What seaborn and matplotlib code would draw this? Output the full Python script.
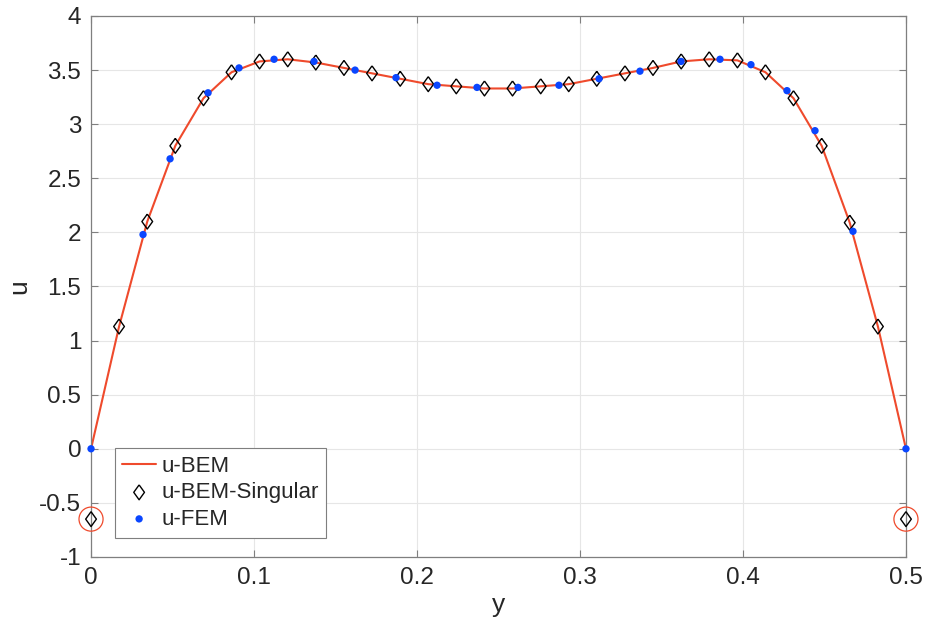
# u along y: BEM vs BEM-Singular vs FEM
import pandas as pd
import seaborn as sns
import matplotlib.pyplot as plt

# Data
y_bem = [0, 0.0172, 0.0345, 0.0517, 0.0690, 0.0862, 0.1034, 0.1207, 0.1379, 0.1552,
         0.1724, 0.1897, 0.2069, 0.2241, 0.2414, 0.2586, 0.2759, 0.2931, 0.3103, 0.3276,
         0.3448, 0.3621, 0.3793, 0.3966, 0.4138, 0.4310, 0.4483, 0.4655, 0.4828, 0.5]
u_bem = [0, 1.13, 2.10, 2.80, 3.24, 3.48, 3.58, 3.60, 3.57, 3.52,
         3.47, 3.42, 3.37, 3.35, 3.33, 3.33, 3.35, 3.37, 3.42, 3.47,
         3.52, 3.58, 3.60, 3.59, 3.48, 3.24, 2.80, 2.09, 1.13, 0]
u_sing = [-0.65, 1.13, 2.10, 2.80, 3.24, 3.48, 3.58, 3.60, 3.57, 3.52,
          3.47, 3.42, 3.37, 3.35, 3.33, 3.33, 3.35, 3.37, 3.42, 3.47,
          3.52, 3.58, 3.60, 3.59, 3.48, 3.24, 2.80, 2.09, 1.13, -0.65]
y_fem = [0, 0.0319, 0.0485, 0.0718, 0.0908, 0.1123, 0.1368, 0.1620, 0.1871, 0.2123, 0.2368,
         0.2620, 0.2871, 0.3117, 0.3368, 0.3620, 0.3859, 0.4049, 0.4270, 0.4442, 0.4675, 0.5]
u_fem = [0, 1.98, 2.68, 3.29, 3.52, 3.60, 3.58, 3.50, 3.43, 3.36, 3.34,
         3.34, 3.36, 3.42, 3.49, 3.58, 3.60, 3.55, 3.31, 2.94, 2.01, 0]

xticks = [0, 0.1, 0.2, 0.3, 0.4, 0.5]
yticks = [-1, -0.5, 0, 0.5, 1, 1.5, 2, 2.5, 3, 3.5, 4]

bem = pd.DataFrame({'y': y_bem, 'u': u_bem})
sing = pd.DataFrame({'y': y_bem, 'u': u_sing})
fem = pd.DataFrame({'y': y_fem, 'u': u_fem})
ends = sing.iloc[[0, -1]]

sns.set_theme(style='whitegrid')
plt.rcParams['font.family'] = ['Liberation Sans', 'DejaVu Sans']
plt.rcParams['axes.unicode_minus'] = False

fig = plt.figure(figsize=(9.27, 6.32), dpi=100)
ax = fig.add_axes([0.0982, 0.1187, 0.8791, 0.856])

red = '#ef4a2c'
blue = '#0a46ff'
diamond = [(0, 1), (0.72, 0), (0, -1), (-0.72, 0), (0, 1)]

sns.lineplot(data=bem, x='y', y='u', ax=ax, color=red, lw=1.5,
             sort=False, estimator=None, label='u-BEM', clip_on=False)
sns.scatterplot(data=sing, x='y', y='u', ax=ax, marker=diamond, s=115,
                facecolor='none', edgecolor='black', linewidth=1.0,
                label='u-BEM-Singular', zorder=3, clip_on=False)
sns.scatterplot(data=fem, x='y', y='u', ax=ax, color=blue, s=28,
                edgecolor='none', label='u-FEM', zorder=4, clip_on=False)
ax.scatter(ends['y'], ends['u'], s=300, facecolor='none', edgecolor=red,
           linewidth=0.9, zorder=5, clip_on=False)

ax.set_xlim(0, 0.5)
ax.set_ylim(-1, 4)
ax.set_xticks(xticks)
ax.set_xticklabels([f'{t:g}' for t in xticks])
ax.set_yticks(yticks)
ax.set_yticklabels([f'{t:g}' for t in yticks])
ax.set_xlabel('y', fontsize=19, color='#262626', labelpad=3)
ax.set_ylabel('u', fontsize=19, color='#262626', labelpad=6)

ax.grid(True, color='#e6e6e6', lw=0.8)
for s in ax.spines.values():
    s.set_visible(True)
    s.set_color('#7f7f7f')
    s.set_linewidth(0.9)
ax.tick_params(direction='in', length=5, width=0.8, color='#7f7f7f',
               labelsize=17.5, labelcolor='#262626', top=True, right=True,
               bottom=True, left=True, pad=7)

leg = ax.legend(loc='lower left', bbox_to_anchor=(0.029, 0.036), fontsize=16,
                frameon=True, fancybox=False, framealpha=1, borderpad=0.35,
                handlelength=1.5, handletextpad=0.25, labelspacing=0.25,
                borderaxespad=0)
leg.get_frame().set_edgecolor('#7f7f7f')
leg.get_frame().set_linewidth(0.8)

fig.savefig('out.png', dpi=100)
